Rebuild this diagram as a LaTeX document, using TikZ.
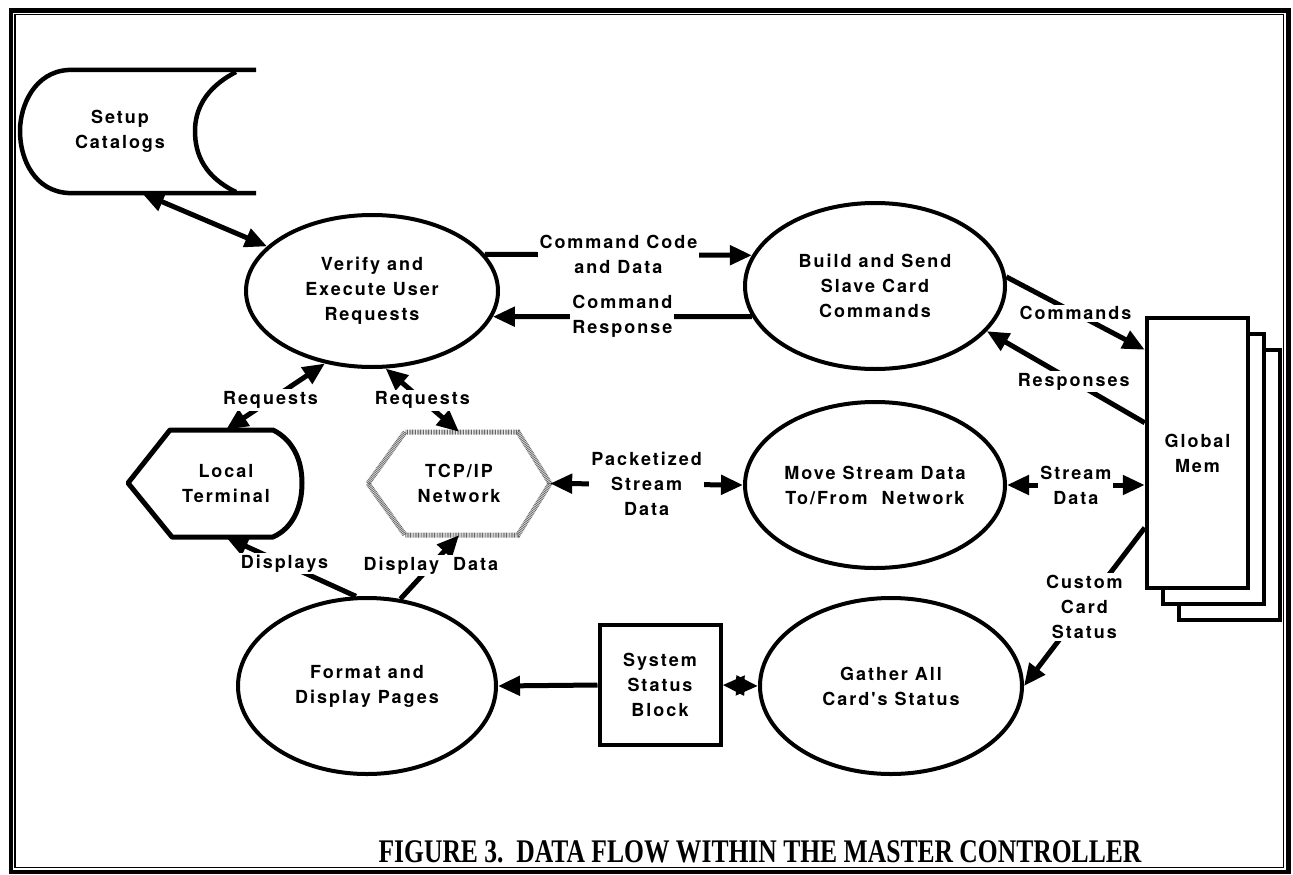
\documentclass[tikz,border=0pt]{standalone}
\usepackage{fontspec}
\usepackage{graphicx}
\newfontfamily\dfdfont{TeX Gyre Heros}[LetterSpace=11]
\newfontfamily\capfont{Liberation Serif}
\usetikzlibrary{arrows.meta}
\usetikzlibrary{shapes.geometric}
\begin{document}
\begin{tikzpicture}[x=1pt, y=-1pt,
	font=\dfdfont\bfseries\fontsize{18}{25}\selectfont,
	process/.style={draw, ellipse, line width=4pt, align=center, inner sep=0pt},
	store/.style={align=center, inner sep=0pt},
	card/.style={draw, fill=white, line width=4.5pt, minimum width=101pt, minimum height=270pt, align=center},
	lbl/.style={fill=white, align=center, inner sep=2pt},
	flow/.style={line width=5pt, -{Triangle[length=22pt, width=19pt]}},
	flows/.style={line width=5pt, {Triangle[length=22pt, width=19pt]}-{Triangle[length=22pt, width=19pt]}}]
	\useasboundingbox (0,0) rectangle (1293,875);
	\draw[line width=4.5pt] (11,10.5) rectangle (1288.5,872);
	\draw[line width=1.5pt] (15,14.5) rectangle (1283.5,867.5);
	\draw[line width=4.5pt, line join=round] (256,70) -- (68,70) .. controls (35,72) and (20,105) .. (20,131)
		.. controls (20,160) and (35,191) .. (68,193) -- (256,193);
	\draw[line width=4.5pt] (236,72) .. controls (205,88) and (195,110) .. (195,131)
		.. controls (195,155) and (205,177) .. (236,192);
	\draw[line width=5pt, line join=round] (128,483) -- (170,430) -- (273,430) .. controls (293,440) and (302,460) .. (302,483)
		.. controls (302,507) and (293,528) .. (273,537) -- (172,537) -- cycle;
	\draw[draw=black!60, line width=5pt, dash pattern=on 0.8pt off 0.8pt] (368,483.5) -- (405,432) -- (518,432)
		-- (550,483.5) -- (518,535) -- (405,535) -- cycle;
	\node (setup) [store, minimum width=150pt, minimum height=123pt] at (120,131.5) {Setup\\Catalogs};
	\node (local) [store, minimum width=152pt, minimum height=107pt] at (226,483.5) {Local\\Terminal};
	\node (tcp) [store, minimum width=182pt, minimum height=103pt] at (459,483.5) {TCP/IP\\Network};
	\node (verify) [process, minimum width=252pt, minimum height=152pt] at (372,291) {Verify and\\Execute User\\Requests};
	\node (build) [process, minimum width=260pt, minimum height=166pt] at (875,286) {Build and Send\\Slave Card\\Commands};
	\node (move) [process, minimum width=260pt, minimum height=166pt, inner xsep=-12pt] at (875,485) {Move Stream Data\\To/From\ \ Network};
	\node (format) [process, minimum width=258pt, minimum height=176pt] at (367,686) {Format and\\Display Pages};
	\node (gather) [process, minimum width=262pt, minimum height=176pt] at (891,686) {Gather All\\Card's Status};
	\node (ssb) [draw, line width=4pt, minimum width=121pt, minimum height=120pt, align=center] at (660,685) {System\\Status\\Block};
	\foreach \X/\Y in {c/32,b/16}
		\node (gmem\X) [card] at (1197.5+\Y,453+\Y) {};
	\node (gmem) [card] at (1197.5,453) {Global\\Mem};
	\draw[flows] ([xshift=22pt]setup.south) -- (verify);
	\draw[flow] (verify.18) -- node[lbl] {Command Code\\and Data} (build.166);
	\draw[flow] (build.194) -- node[lbl] {Command\\Response} (verify.-12);
	\draw[flow] (build.4) -- node[lbl] {Commands} ([yshift=-34pt]gmem.north west);
	\draw[flow] ([yshift=-107pt]gmem.north west) -- node[lbl, pos=0.45] {Responses} (build.-22);
	\draw[flows] (verify.237) -- node[lbl, pos=0.55] {Requests} (local.north);
	\draw[flows] (verify.280) -- node[lbl] {Requests} (tcp.north);
	\draw[flows] (tcp.east) -- node[lbl] {Packetized\\Stream\\Data} (move.west);
	\draw[flows] (move.east) -- node[lbl] {Stream\\Data} (gmem.west |- move.east);
	\draw[flow] ([yshift=-212pt]gmem.north west) -- node[lbl] {Custom\\Card\\Status} (gather.east);
	\draw[flow] (format.97) -- node[lbl, pos=0.55] {Displays} (local.south);
	\draw[flow] (format.69) -- node[lbl, pos=0.52] {Display\ \ Data} (tcp.south);
	\draw[flow] (ssb.west) -- (format.east);
	\draw[flows] (gather.west) -- (ssb.east);
	\node (caption) [font=\capfont\bfseries\fontsize{33}{33}\selectfont, anchor=base] at (760,862)
		{\scalebox{0.775}[1]{FIGURE 3.\ \ DATA FLOW WITHIN THE MASTER CONTROLLER}};
\end{tikzpicture}
\end{document}
